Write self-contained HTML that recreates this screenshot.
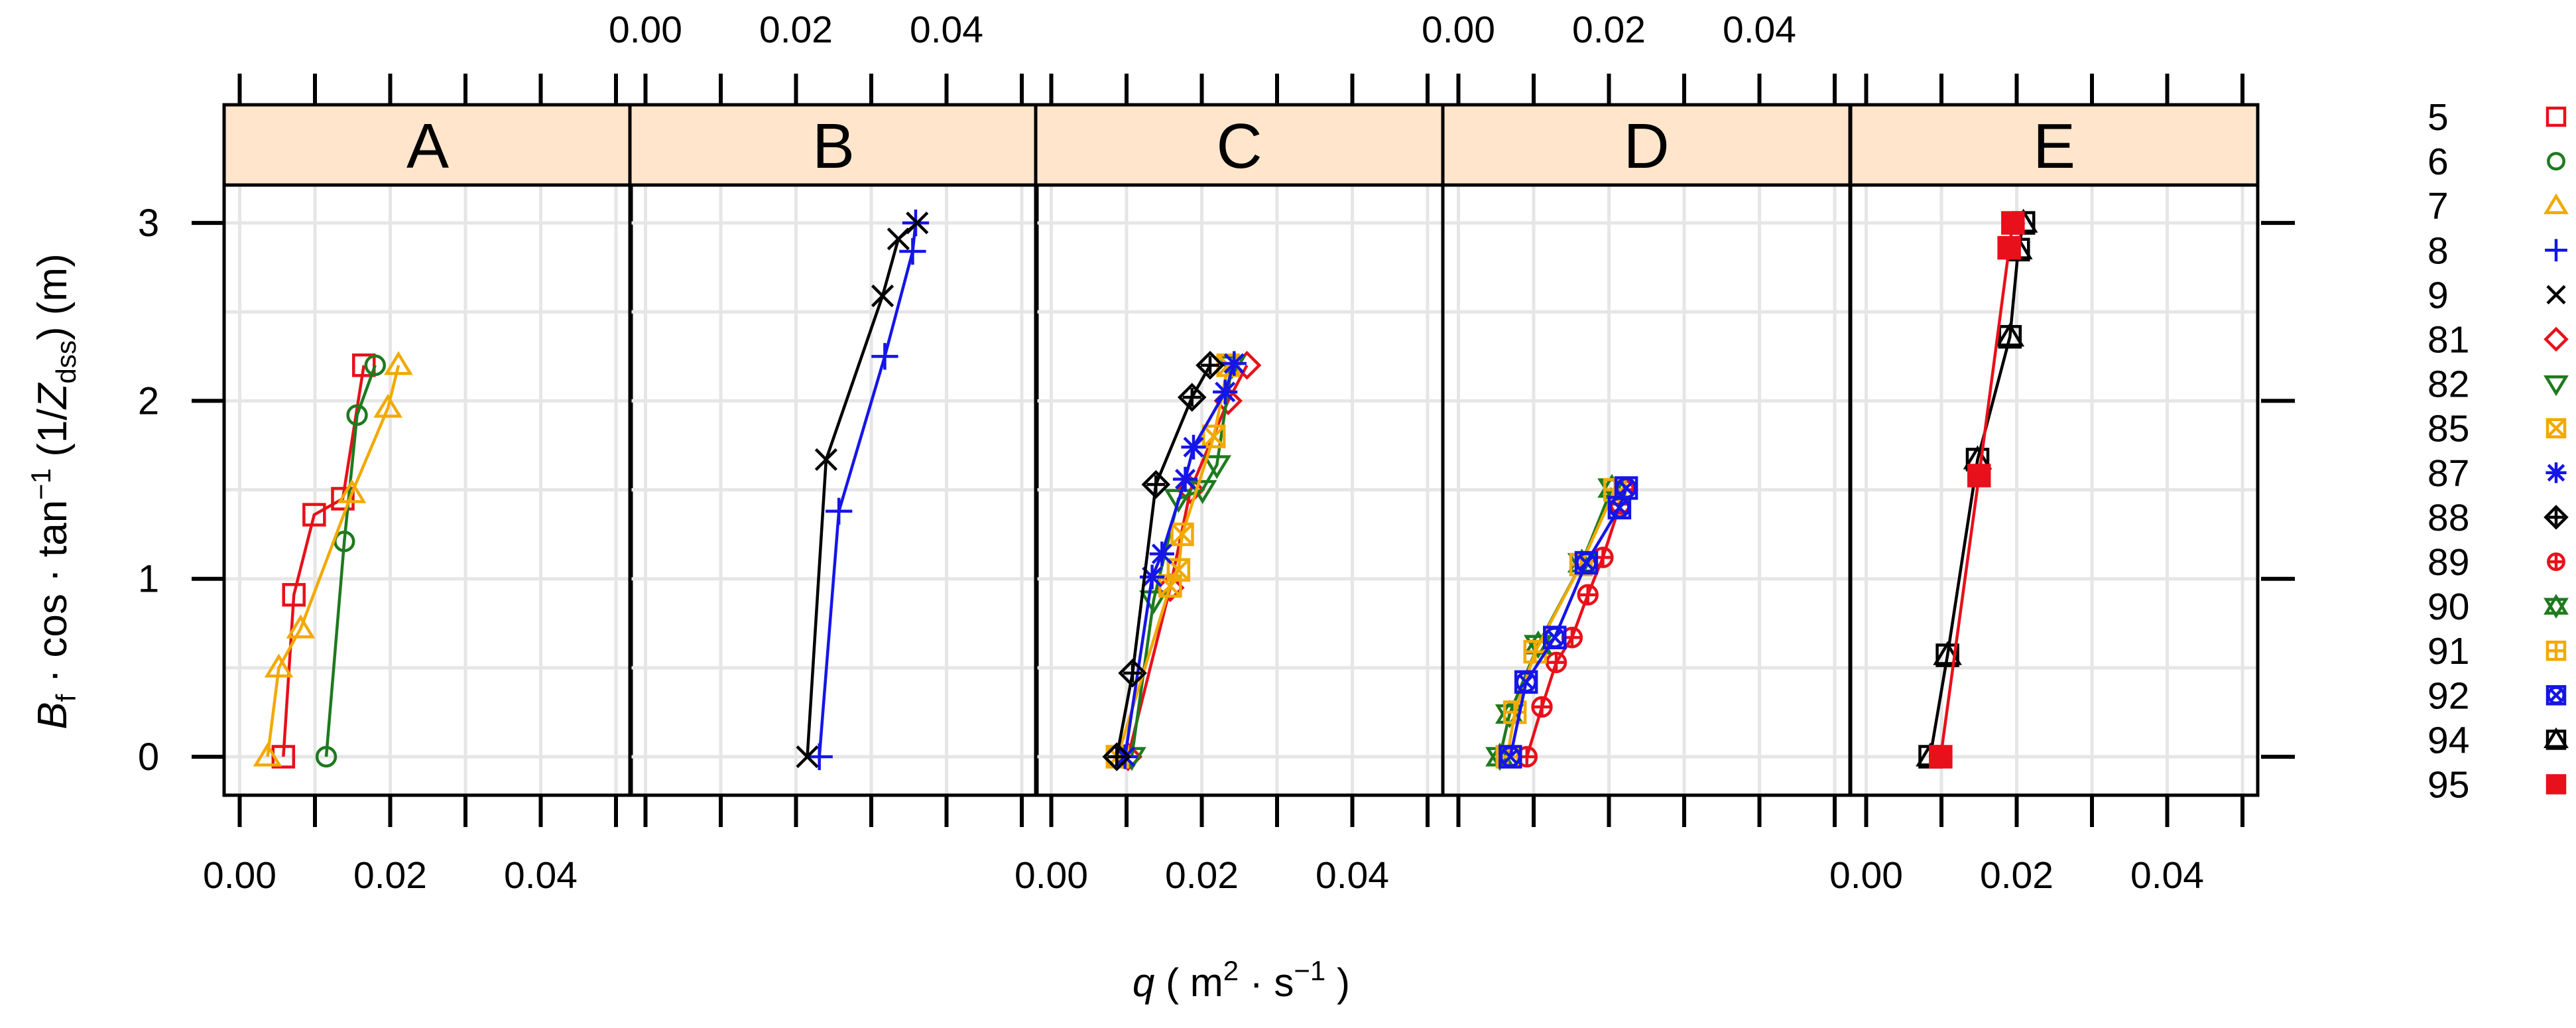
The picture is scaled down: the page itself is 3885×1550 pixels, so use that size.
<!DOCTYPE html>
<html><head><meta charset="utf-8"><style>
html,body{margin:0;padding:0;background:#fff;}
svg{display:block;font-family:"Liberation Sans",sans-serif;}
</style></head><body>
<svg id="chart" width="3885" height="1550" viewBox="0 0 3885 1550" xmlns="http://www.w3.org/2000/svg">
<text transform="translate(100,741) rotate(-90)" text-anchor="middle" font-size="62"><tspan font-style="italic">B</tspan><tspan font-size="42" dy="14">f</tspan><tspan dy="-14"> · cos · tan</tspan><tspan font-size="42" dy="-24">−1</tspan><tspan dy="24"> (1/</tspan><tspan font-style="italic">Z</tspan><tspan font-size="42" dy="14">dss</tspan><tspan dy="-14">) (m)</tspan></text>
<text x="1872" y="1502" text-anchor="middle" font-size="60"><tspan font-style="italic">q</tspan> ( m<tspan font-size="42" dy="-24">2</tspan><tspan dy="24"> · s</tspan><tspan font-size="42" dy="-24">−1</tspan><tspan dy="24"> )</tspan></text>
</svg>
<script>
const panelNames = ['A','B','C','D','E'];
const legendKeys = ['5','6','7','8','9','81','82','85','87','88','89','90','91','92','94','95'];
const xTicks = [0,0.01,0.02,0.03,0.04,0.05];
const xTickLabels = ['0.00','0.02','0.04'];
const yTicks = [0,1,2,3];
const s5x=[0.0058,0.0072,0.0099,0.0137,0.0165], s5y=[0,0.91,1.36,1.45,2.2];
const s6x=[0.0115,0.0139,0.0156,0.018], s6y=[0,1.21,1.92,2.2];
const s7x=[0.0037,0.0052,0.0081,0.0149,0.0197,0.0211], s7y=[0,0.5,0.72,1.48,1.96,2.2];
const s8x=[0.0231,0.0257,0.0318,0.0355,0.0359], s8y=[0,1.38,2.25,2.84,3.0];
const s9x=[0.0215,0.024,0.0315,0.0336,0.0361], s9y=[0,1.67,2.59,2.91,3.0];
const s81x=[0.0102,0.0158,0.0185,0.0235,0.026], s81y=[0,0.95,1.5,2.0,2.2];
const s82x=[0.0107,0.0136,0.0169,0.0201,0.022,0.024], s82y=[0,0.88,1.45,1.5,1.64,2.2];
const s85x=[0.0088,0.0158,0.0169,0.0174,0.0216,0.0235], s85y=[0,0.96,1.05,1.25,1.8,2.2];
const s87x=[0.0098,0.0134,0.0147,0.0178,0.0189,0.0231,0.0243], s87y=[0,1.01,1.14,1.56,1.74,2.05,2.21];
const s88x=[0.0087,0.0108,0.0139,0.0187,0.0211], s88y=[0,0.47,1.53,2.02,2.2];
const s89x=[0.0091,0.0111,0.013,0.0151,0.0172,0.0192,0.0215,0.022], s89y=[0,0.28,0.53,0.67,0.91,1.12,1.42,1.5];
const s90x=[0.0055,0.0068,0.0106,0.0164,0.0204], s90y=[0,0.24,0.63,1.09,1.51];
const s91x=[0.0065,0.0075,0.0102,0.0163,0.0208], s91y=[0,0.25,0.59,1.08,1.5];
const s92x=[0.0069,0.009,0.0128,0.017,0.0214,0.0223], s92y=[0,0.42,0.67,1.09,1.4,1.51];
const s94x=[0.0085,0.0108,0.0148,0.0191,0.0202,0.0209], s94y=[0,0.57,1.67,2.36,2.85,3.0];
const s95x=[0.0099,0.015,0.019,0.0195], s95y=[0,1.58,2.86,3.0];

const RED='#e8101a',GRN='#1e7a1e',ORG='#f2a900',BLU='#1515e8',BLK='#000';
const series=[
 {k:'5',p:0,x:s5x,y:s5y,c:RED,m:'square'},
 {k:'6',p:0,x:s6x,y:s6y,c:GRN,m:'circle'},
 {k:'7',p:0,x:s7x,y:s7y,c:ORG,m:'tri'},
 {k:'8',p:1,x:s8x,y:s8y,c:BLU,m:'plus'},
 {k:'9',p:1,x:s9x,y:s9y,c:BLK,m:'cross'},
 {k:'81',p:2,x:s81x,y:s81y,c:RED,m:'diamond'},
 {k:'82',p:2,x:s82x,y:s82y,c:GRN,m:'dtri'},
 {k:'85',p:2,x:s85x,y:s85y,c:ORG,m:'sqx'},
 {k:'87',p:2,x:s87x,y:s87y,c:BLU,m:'star'},
 {k:'88',p:2,x:s88x,y:s88y,c:BLK,m:'diaplus'},
 {k:'89',p:3,x:s89x,y:s89y,c:RED,m:'cirplus'},
 {k:'90',p:3,x:s90x,y:s90y,c:GRN,m:'david'},
 {k:'91',p:3,x:s91x,y:s91y,c:ORG,m:'sqplus'},
 {k:'92',p:3,x:s92x,y:s92y,c:BLU,m:'cirx'},
 {k:'94',p:4,x:s94x,y:s94y,c:BLK,m:'sqtri'},
 {k:'95',p:4,x:s95x,y:s95y,c:RED,m:'fsq'}
];
const NS='http://www.w3.org/2000/svg';
const svg=document.getElementById('chart');
function mk(tag,attrs,parent){const e=document.createElementNS(NS,tag);for(const a in attrs)e.setAttribute(a,attrs[a]);(parent||svg).appendChild(e);return e;}
const panelLeft=[338,950,1562,2176,2791], panelW=614, TOP=279, STRIP=158, BOT=1199;
function xs(p,v){return panelLeft[p]+23.5+v*11350;}
function ys(v){return 1141-v*268.3;}

for(let p=0;p<5;p++){
  const L=panelLeft[p];
  const g=mk('g',{});
  
  
  for(let v=0;v<=0.0501;v+=0.01){const gl=mk('line',{x1:xs(p,v),x2:xs(p,v),y1:TOP,y2:BOT,stroke:'#e6e6e6','stroke-width':5},g);}
  for(let v=0;v<=3.01;v+=0.5){const gl=mk('line',{x1:L,x2:L+panelW,y1:ys(v),y2:ys(v),stroke:'#e6e6e6','stroke-width':5},g);}
  const st=mk('rect',{x:L,y:STRIP,width:panelW,height:TOP-STRIP,fill:'#ffe5cc',stroke:'#000','stroke-width':5},g);
  
  const sl=mk('text',{x:L+panelW/2,y:253,'text-anchor':'middle','font-size':96},g);sl.textContent=panelNames[p];
  
  mk('rect',{x:L,y:TOP,width:panelW,height:BOT-TOP,fill:'none',stroke:'#000','stroke-width':5},g);
  xTicks.forEach((v,i)=>{
    const x=xs(p,v);
    mk('line',{x1:x,x2:x,y1:111,y2:STRIP,stroke:'#000','stroke-width':6},g);
    mk('line',{x1:x,x2:x,y1:BOT,y2:1247,stroke:'#000','stroke-width':6},g);
    if(i%2==0){
      const lab=xTickLabels[i/2];
      if(lab){const top=(p%2==1);
        const t=mk('text',{x:x,y:top?64:1339,'text-anchor':'middle','font-size':57},g);t.textContent=lab;
        }
    }
  });
}
yTicks.forEach(v=>{
  mk('line',{x1:289,x2:338,y1:ys(v),y2:ys(v),stroke:'#000','stroke-width':6});
  mk('line',{x1:3410,x2:3461,y1:ys(v),y2:ys(v),stroke:'#000','stroke-width':6});
  const t=mk('text',{x:224,y:ys(v)+20,'text-anchor':'middle','font-size':58});t.textContent=v;
  
});
function marker(m,x,y,c,s,parent){
  const g=mk('g',{fill:'none',stroke:c,'stroke-width':4.5},parent);
  const h=s/2;
  const sq=()=>mk('rect',{x:x-h,y:y-h,width:s,height:s},g);
  const pl=(r)=>{mk('line',{x1:x-r,x2:x+r,y1:y,y2:y},g);mk('line',{x1:x,x2:x,y1:y-r,y2:y+r},g);};
  const cr=(r)=>{mk('line',{x1:x-r,x2:x+r,y1:y-r,y2:y+r},g);mk('line',{x1:x-r,x2:x+r,y1:y+r,y2:y-r},g);};
  const tri=(d)=>mk('polygon',{points:`${x-h*1.15},${y+d*h*0.8} ${x+h*1.15},${y+d*h*0.8} ${x},${y-d*h*1.1}`},g);
  const dia=()=>mk('polygon',{points:`${x},${y-h*1.2} ${x+h*1.2},${y} ${x},${y+h*1.2} ${x-h*1.2},${y}`},g);
  switch(m){
    case 'square':sq();break;
    case 'circle':mk('circle',{cx:x,cy:y,r:h*0.9},g);break;
    case 'tri':tri(1);break;
    case 'plus':pl(h*1.3);break;
    case 'cross':cr(h);break;
    case 'diamond':dia();break;
    case 'dtri':tri(-1);break;
    case 'sqx':sq();cr(h);break;
    case 'star':pl(h*1.2);cr(h*0.9);break;
    case 'diaplus':dia();pl(h*0.9);break;
    case 'cirplus':mk('circle',{cx:x,cy:y,r:h*0.9},g);pl(h*0.9);break;
    case 'david':tri(1);tri(-1);break;
    case 'sqplus':sq();pl(h);break;
    case 'cirx':mk('circle',{cx:x,cy:y,r:h*0.9},g);cr(h*0.7);sq();break;
    case 'sqtri':sq();tri(1);break;
    case 'fsq':mk('rect',{x:x-h,y:y-h,width:s,height:s,fill:c},g);break;
  }
  return g;
}
series.forEach(s=>{
  const g=mk('g',{});
  
  
  const pts=s.x.map((v,i)=>xs(s.p,v)+','+ys(s.y[i])).join(' ');
  mk('polyline',{points:pts,fill:'none',stroke:s.c,'stroke-width':4.5},g);
  s.x.forEach((v,i)=>{const mg=marker(s.m,xs(s.p,v),ys(s.y[i]),s.c,31,g);
    });
});
const lg=mk('g',{});


legendKeys.forEach((k,i)=>{
  const y=176+i*67.1;
  const s=series.find(q=>q.k===k);
  const t=mk('text',{x:3661,y:y+20,'font-size':57},lg);t.textContent=k;
  
  const mg=marker(s.m,3855,y,s.c,26,lg);
  
});
</script>
</body></html>
